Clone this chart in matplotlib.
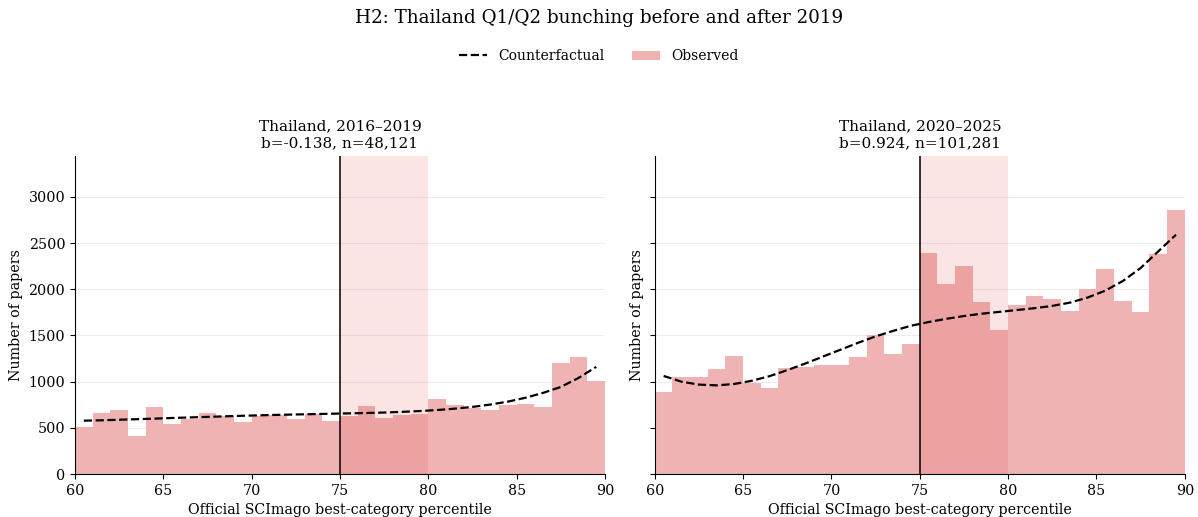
import numpy as np
import matplotlib
matplotlib.use("Agg")
import matplotlib.pyplot as plt

# ---- data ----
bin_edges = list(range(60, 91))
bin_centers = [e + 0.5 for e in range(60, 90)]

obs_2016_2019 = [508, 659, 691, 414, 724, 540, 601, 659, 626, 562,
                 630, 644, 598, 648, 572, 630, 734, 608, 641, 655,
                 810, 745, 716, 691, 749, 756, 724, 1199, 1264, 1004]
cf_2016_2019 = [578, 582, 588, 594, 600, 607, 613, 619, 625, 631,
                636, 641, 645, 649, 653, 657, 661, 666, 673, 682,
                693, 708, 727, 752, 784, 826, 879, 943, 1040, 1160]

obs_2020_2025 = [886, 1048, 1048, 1134, 1274, 983, 929, 1150, 1160, 1175,
                 1178, 1264, 1501, 1296, 1404, 2387, 2052, 2246, 1858, 1555,
                 1825, 1922, 1890, 1760, 1998, 2214, 1868, 1750, 2376, 2862]
cf_2020_2025 = [1062, 1000, 968, 960, 975, 1010, 1060, 1125, 1195, 1270,
                1345, 1420, 1490, 1550, 1605, 1645, 1680, 1710, 1735, 1755,
                1775, 1795, 1820, 1855, 1910, 1985, 2090, 2230, 2410, 2590]

panel_titles = ["Thailand, 2016\u20132019\nb=-0.138, n=48,121",
                "Thailand, 2020\u20132025\nb=0.924, n=101,281"]
threshold = 75
window = (75, 80)

plt.rcParams['font.family'] = ['DejaVu Serif']

fig, axes = plt.subplots(1, 2, figsize=(11.98, 5.17), dpi=100, sharey=True)
fig.subplots_adjust(left=0.0626, right=0.989, bottom=0.083, top=0.698, wspace=0.094)

series = [(obs_2016_2019, cf_2016_2019), (obs_2020_2025, cf_2020_2025)]
for ax, (obs, cf), title in zip(axes, series, panel_titles):
    ax.set_axisbelow(True)
    ax.grid(axis='y', color='#e6e6e6', alpha=0.7, linewidth=0.8)
    # opaque white underlay so the grid does not show through the bars
    ax.bar(bin_centers, obs, width=1.0, color='white', linewidth=0, zorder=1.2)
    ax.axvspan(window[0], window[1], color='tab:red', alpha=0.12, linewidth=0, zorder=1.3)
    ax.bar(bin_centers, obs, width=1.0, color='tab:red', alpha=0.35,
           linewidth=0, label='Observed', zorder=1.5)
    ax.plot(bin_centers, cf, color='black', linestyle='--', linewidth=1.6,
            label='Counterfactual', zorder=3)
    ax.axvline(threshold, color='black', linewidth=1.1, zorder=2.5)
    ax.set_xlim(60, 90)
    ax.set_xticks(range(60, 91, 5))
    ax.set_title(title, fontsize=11, linespacing=1.25, pad=6.5)
    ax.set_xlabel('Official SCImago best-category percentile', fontsize=10.25)
    ax.set_ylabel('Number of papers', fontsize=10.25)
    ax.tick_params(labelsize=10.25)
    ax.spines['top'].set_visible(False)
    ax.spines['right'].set_visible(False)

axes[0].set_ylim(0, 3440)
axes[0].set_yticks(range(0, 3001, 500))
axes[1].tick_params(labelleft=False)

handles, labels = axes[0].get_legend_handles_labels()
order = [labels.index('Counterfactual'), labels.index('Observed')]
fig.legend([handles[i] for i in order], [labels[i] for i in order],
           loc='center', bbox_to_anchor=(0.5, 0.891), ncol=2, frameon=False,
           fontsize=10, columnspacing=2.0)
fig.suptitle('H2: Thailand Q1/Q2 bunching before and after 2019', fontsize=13.2, y=0.983)

fig.savefig('out.png', dpi=100)
